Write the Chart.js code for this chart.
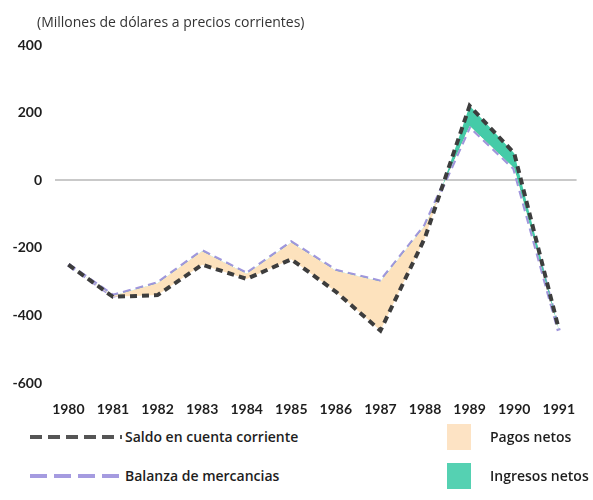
<!DOCTYPE html>
<html>
<head>
<meta charset="utf-8">
<script src="https://cdn.jsdelivr.net/npm/chart.js@4.4.1/dist/chart.umd.min.js"></script>
<style>
  body { margin: 0; background: #fff; }
  #wrap { position: relative; width: 593px; height: 500px; font-family: "Open Sans", Lato, sans-serif; color: #1e1e1e; }
  #title { position: absolute; left: 37px; top: 12px; font-size: 14px; color: #333; }
  #chart { position: absolute; left: 0; top: 0; }
  .lg { position: absolute; font-size: 14px; font-weight: 600; line-height: 18px; }
  .dash { position: absolute; height: 4px; }
  .sw { position: absolute; width: 24px; height: 26px; }
</style>
</head>
<body>
<div id="wrap">
  <canvas id="chart" width="593" height="425"></canvas>
  <div id="title">(Millones de dólares a precios corrientes)</div>

  <div class="dash" style="left:30px;top:435px;width:92px;background:repeating-linear-gradient(to right,#555 0 12px,transparent 12px 18px);"></div>
  <div class="lg" style="left:125px;top:428px;">Saldo en cuenta corriente</div>
  <div class="dash" style="left:30px;top:474px;width:92px;background:repeating-linear-gradient(to right,#a59be0 0 17px,transparent 17px 24px);"></div>
  <div class="lg" style="left:125px;top:467px;">Balanza de mercancias</div>

  <div class="sw" style="left:447px;top:424px;background:#fde3c4;"></div>
  <div class="lg" style="left:490px;top:428px;">Pagos netos</div>
  <div class="sw" style="left:447px;top:463px;background:#55d1b2;"></div>
  <div class="lg" style="left:490px;top:467px;">Ingresos netos</div>
</div>
<script>
var years   = [1980, 1981, 1982, 1983, 1984, 1985, 1986, 1987, 1988, 1989, 1990, 1991];
var saldo   = [-250, -345, -340, -250, -292, -234, -330, -445, -170, 220, 80, -440];
var balanza = [-250, -342, -305, -210, -277, -184, -268, -300, -135, 160, 35, -445];
var yTicks  = [-600, -400, -200, 0, 200, 400];

var PEACH = '#fde2bd', TEAL = '#45cba8';
var tickFont = { family: 'Lato, "Open Sans", sans-serif', size: 14, weight: 'bold' };

function toPoints(vals){
  var pts = [];
  for (var i = 0; i < years.length; i++) pts.push({x: years[i], y: vals[i]});
  return pts;
}

var ctx = document.getElementById('chart').getContext('2d');
var chart = new Chart(ctx, {
  type: 'line',
  data: {
    datasets: [
      {
        label: 'Saldo en cuenta corriente',
        data: toPoints(saldo),
        borderColor: '#3d3d3d',
        borderWidth: 4,
        borderDash: [7, 5],
        fill: { target: 1, above: TEAL, below: PEACH }
      },
      {
        label: 'Balanza de mercancias',
        data: toPoints(balanza),
        borderColor: '#a096dc',
        borderWidth: 4,
        borderDash: [8, 5],
        fill: false
      }
    ]
  },
  options: {
    responsive: false,
    animation: false,
    layout: { padding: { top: 45, right: 0, bottom: 0, left: 0 } },
    elements: { point: { radius: 0 }, line: { tension: 0 } },
    plugins: { legend: { display: false }, tooltip: { enabled: false } },
    scales: {
      x: {
        type: 'linear',
        min: 1979.7,
        max: 1991.4,
        afterBuildTicks: function(scale){ scale.ticks = years.map(function(v){ return {value: v}; }); },
        afterFit: function(scale){ scale.height = 42; },
        grid: { display: false, drawTicks: false },
        border: { display: false },
        ticks: {
          font: tickFont, color: '#1e1e1e', padding: 18,
          maxRotation: 0, autoSkip: false,
          callback: function(v){ return String(v); }
        }
      },
      y: {
        min: -600,
        max: 400,
        afterBuildTicks: function(scale){ scale.ticks = yTicks.map(function(v){ return {value: v}; }); },
        afterFit: function(scale){ scale.width = 55; },
        grid: {
          drawTicks: false,
          lineWidth: 2,
          color: function(c){ return c.tick && c.tick.value === 0 ? '#c9c9c9' : 'rgba(0,0,0,0)'; }
        },
        border: { display: false },
        ticks: { font: tickFont, color: '#1e1e1e', padding: 13 }
      }
    }
  }
});
</script>
</body>
</html>
